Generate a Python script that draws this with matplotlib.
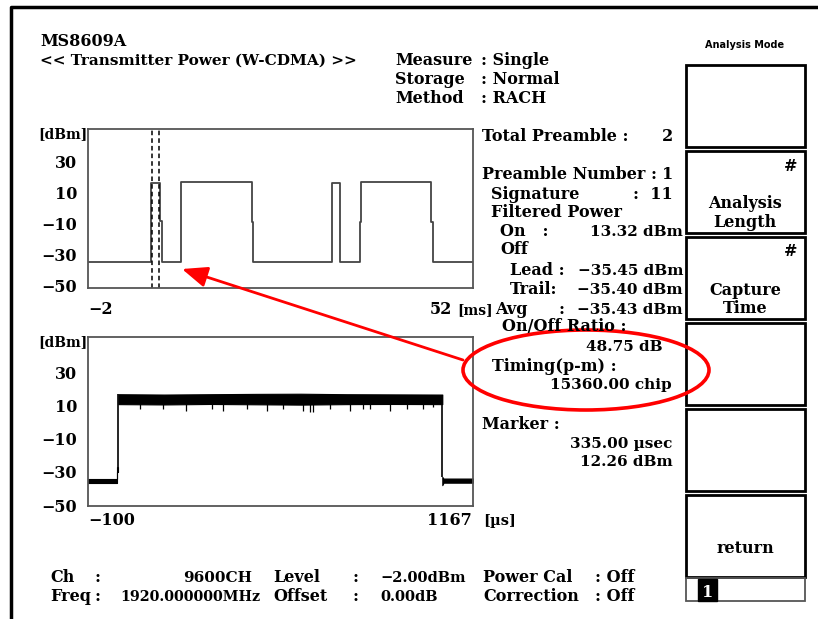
import numpy as np
import matplotlib
matplotlib.use("Agg")
import matplotlib.pyplot as plt
from matplotlib.patches import Rectangle, Ellipse

# ---- data ----
# burst view, time in ms, level in dBm (step trace)
burst_time = [-2, 6.9, 8.1, 8.35, 11.0, 20.95, 21.1, 32.25, 33.37, 36.1, 36.25, 46.1, 46.4, 52]
burst_level = [-35, 16.5, -8, -35, 17, -9, -35, 16.5, -35, -9, 17, -9, -35, -35]
marker_lines = [6.92, 7.98]

# preamble zoom, time in us, noisy band given as envelopes
pre_time = [-100, -3, -3, 0]
pre_hi = [-34, -34, -27, -27]
pre_lo = [-36.5, -36.5, -30, -30]
on_time = [0, 150, 300, 450, 600, 750, 900, 1066]
on_hi = [17.0, 16.8, 17.0, 17.2, 17.3, 17.0, 16.9, 16.8]
on_lo = [11.0, 10.8, 11.1, 10.9, 10.7, 11.0, 11.1, 11.0]
spike_time = [70, 147, 224, 307, 345, 422, 488, 543, 609, 631, 642, 697, 762, 806, 829, 894, 949, 1004, 1037]
spike_low = [8, 8, 7, 8, 7, 8, 7, 8, 7, 6, 6, 8, 7, 8, 8, 7, 8, 8, 9]
post_time = [1066, 1070, 1167]
post_hi = [-33, -34, -34]
post_lo = [-38, -36.5, -36.5]

yticks = [30, 10, -10, -30, -50]

W, H = 818, 619
FONT = "DejaVu Serif"
FS = 11.5

fig = plt.figure(figsize=(W / 100, H / 100), dpi=100)
fig.patch.set_facecolor("white")


def rect(x0, y0, x1, y1):
    return [x0 / W, 1 - y1 / H, (x1 - x0) / W, (y1 - y0) / H]


def style_axes(ax, ylim):
    ax.set_ylim(*ylim)
    ax.set_yticks(yticks)
    ax.set_yticklabels([str(v) if v >= 0 else "\u2212" + str(-v) for v in yticks],
                       fontfamily=FONT, fontsize=FS, fontweight="bold")
    ax.set_xticks([])
    ax.tick_params(axis="y", length=0, pad=8)
    for s in ax.spines.values():
        s.set_color("#555555")
        s.set_linewidth(1.3)


# top: burst trace
ax1 = fig.add_axes(rect(88, 129, 473, 288))
ax1.plot(burst_time, burst_level, drawstyle="steps-post", color="#444444", lw=1.3)
for t in marker_lines:
    ax1.axvline(t, color="black", lw=1.1, ls=(0, (3, 2)))
ax1.set_xlim(-2, 52)
style_axes(ax1, (-51.5, 51.1))

# bottom: preamble trace
ax2 = fig.add_axes(rect(88, 337, 473, 506))
ax2.fill_between(pre_time, pre_lo, pre_hi, color="black", lw=0.8)
ax2.fill_between(on_time, on_lo, on_hi, color="black", lw=0.8)
ax2.fill_between(post_time, post_lo, post_hi, color="black", lw=0.8)
ax2.vlines([on_time[0], on_time[-1]], [pre_hi[-1], post_hi[0]], [on_hi[0], on_hi[-1]], color="black", lw=1.2)
ax2.vlines(spike_time, spike_low, on_lo[0] + 1, color="black", lw=0.9)
ax2.set_xlim(-100, 1167)
style_axes(ax2, (-50.6, 51.6))

# overlay in pixel coordinates
bg = fig.add_axes([0, 0, 1, 1], zorder=5)
bg.set_xlim(0, W)
bg.set_ylim(H, 0)
bg.axis("off")
bg.patch.set_alpha(0)

# screen frame
bg.plot([11, 11, W], [H, 7, 7], color="black", lw=2.5)


def txt(x, y, s, ha="left", size=FS, **kw):
    bg.text(x, y, s, ha=ha, va="baseline", fontfamily=FONT, fontsize=size,
            fontweight="bold", **kw)


txt(40, 46, "MS8609A")
txt(40, 65, "<< Transmitter Power (W-CDMA) >>", size=11)
txt(395, 65, "Measure")
txt(481, 65, ": Single")
txt(395, 84, "Storage")
txt(481, 84, ": Normal")
txt(395, 103, "Method")
txt(481, 103, ": RACH")

txt(87, 138, "[dBm]", ha="right", size=10)
txt(87, 346, "[dBm]", ha="right", size=10)
txt(88, 314, "\u22122")
txt(452, 314, "52", ha="right")
txt(457, 314, "[ms]", size=10)
txt(88, 525, "\u2212100")
txt(472, 525, "1167", ha="right")
txt(483, 525, "[\u00b5s]", size=10.5)

txt(482, 141, "Total Preamble :")
txt(673, 141, "2", ha="right")
txt(482, 179, "Preamble Number :")
txt(673, 179, "1", ha="right")
txt(491, 199, "Signature")
txt(673, 199, ":  11", ha="right")
txt(491, 217, "Filtered Power")
txt(500, 236, "On   :")
txt(683, 236, "13.32 dBm", ha="right", size=11)
txt(500, 254, "Off")
txt(510, 275, "Lead :")
txt(683, 275, "\u221235.45 dBm", ha="right", size=11)
txt(510, 294, "Trail:")
txt(683, 294, "\u221235.40 dBm", ha="right", size=11)
txt(495, 314, "Avg")
txt(558, 314, ":")
txt(683, 314, "\u221235.43 dBm", ha="right", size=11)
txt(502, 331, "On/Off Ratio :")
txt(663, 351, "48.75 dB", ha="right", size=11)
txt(492, 371, "Timing(p-m) :")
txt(672, 389, "15360.00 chip", ha="right", size=11)
txt(482, 429, "Marker :")
txt(672, 448, "335.00 \u00b5sec", ha="right", size=11)
txt(673, 466, "12.26 dBm", ha="right", size=11)

txt(50, 582, "Ch")
txt(95, 582, ":")
txt(252, 582, "9600CH", ha="right", size=11)
txt(273, 582, "Level")
txt(352, 582, ":")
txt(466, 582, "\u22122.00dBm", ha="right", size=10.5)
txt(483, 582, "Power Cal")
txt(595, 582, ": Off")
txt(50, 601, "Freq")
txt(95, 601, ":")
txt(260, 601, "1920.000000MHz", ha="right", size=10.3)
txt(273, 601, "Offset")
txt(352, 601, ":")
txt(438, 601, "0.00dB", ha="right", size=10.5)
txt(483, 601, "Correction")
txt(595, 601, ": Off")

# soft keys
bg.text(745, 48, "Analysis Mode", ha="center", va="baseline", fontfamily="DejaVu Sans",
        fontsize=7, fontweight="bold")
keys = [(65, 147), (151, 233), (237, 319), (323, 405), (409, 491), (495, 577)]
for y0, y1 in keys:
    bg.add_patch(Rectangle((686, y0), 119, y1 - y0, fill=False, ec="black", lw=2))
bg.add_patch(Rectangle((686, 578), 119, 23, fill=False, ec="#555555", lw=1.3))
bg.add_patch(Rectangle((698, 579), 19, 22, fc="black", ec="black"))
bg.text(707.5, 597, "1", ha="center", va="baseline", color="white", fontfamily=FONT,
        fontsize=FS, fontweight="bold")
txt(797, 171, "#", ha="right")
txt(797, 256, "#", ha="right")
txt(745, 208, "Analysis", ha="center")
txt(745, 227, "Length", ha="center")
txt(745, 295, "Capture", ha="center")
txt(745, 313, "Time", ha="center")
txt(745, 553, "return", ha="center")

# red callout
bg.add_patch(Ellipse((586, 370), 246, 80, fill=False, ec="red", lw=2.6))
bg.annotate("", xy=(182, 269), xytext=(463, 360),
            arrowprops=dict(arrowstyle="-|>,head_length=1.1,head_width=0.45",
                            color="red", lw=2, mutation_scale=14, shrinkA=0, shrinkB=0))

fig.savefig("out.png", dpi=100)
